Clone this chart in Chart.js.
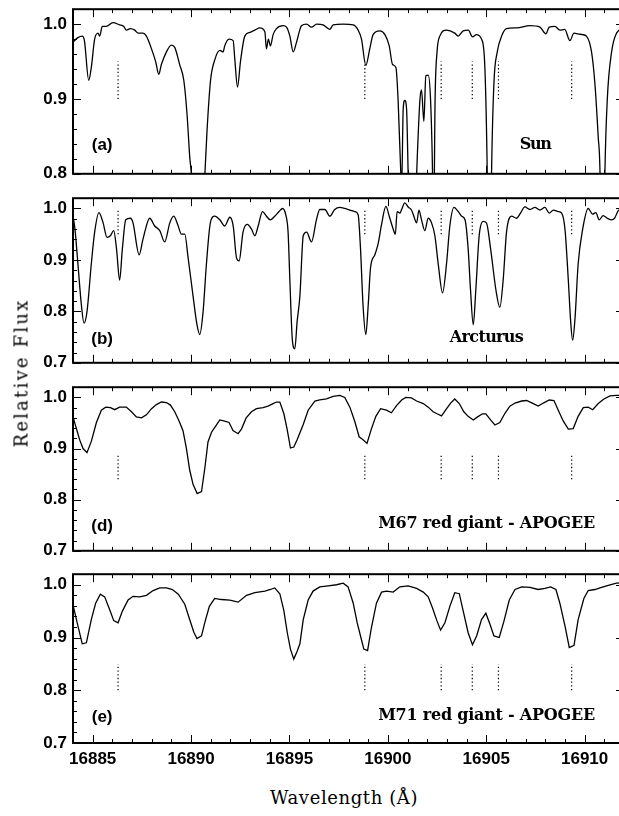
<!DOCTYPE html>
<html>
<head>
<meta charset="utf-8">
<script src="https://cdn.jsdelivr.net/npm/chart.js@4"></script>
<style>
  body { margin: 0; background: #fff; width: 619px; height: 816px; overflow: hidden; position: relative; }
  canvas { position: absolute; left: 0; }
  .ttl { position: absolute; font-family: "DejaVu Serif", serif; font-size: 18px; color: #000; white-space: nowrap; transform: translate(-50%, -50%); }
  #ylab { transform: translate(-50%, -50%) rotate(-90deg); letter-spacing: 2.2px; }
  #xlab { letter-spacing: 0.6px; }
</style>
</head>
<body>
<canvas id="pa" width="632" height="197" style="top:-7px"></canvas>
<canvas id="pb" width="632" height="197" style="top:182px"></canvas>
<canvas id="pd" width="632" height="196" style="top:371px"></canvas>
<canvas id="pe" width="632" height="219" style="top:558px"></canvas>
<div class="ttl" id="ylab" style="left:21px;top:373px">Relative Flux</div>
<div class="ttl" id="xlab" style="left:344px;top:797px">Wavelength (Å)</div>
<script>
// --- data ---
const waveMin = 16884;
const waveMax = 16912;
const fluxMax = 1.02;
const waveTicks = [16885, 16890, 16895, 16900, 16905, 16910];
const yTicksSun = [0.8, 0.9, 1.0];
const yTicks = [0.7, 0.8, 0.9, 1.0];
const markerWave = [16886.29, 16898.83, 16902.71, 16904.29, 16905.62, 16909.34];

const sunWave = [16884.00,16884.25,16884.47,16884.58,16884.80,16884.93,16885.10,16885.27,16885.35,16885.49,16885.69,16886.03,16886.37,16886.58,16886.71,16886.92,16887.14,16887.31,16887.56,16887.73,16887.99,16888.20,16888.36,16888.49,16888.75,16889.00,16889.17,16889.42,16889.63,16889.80,16889.93,16890.02,16890.36,16890.70,16890.81,16890.99,16891.20,16891.46,16891.63,16891.71,16891.93,16892.14,16892.22,16892.36,16892.51,16892.73,16892.99,16893.24,16893.49,16893.75,16893.83,16893.93,16894.03,16894.17,16894.34,16894.68,16894.85,16895.02,16895.19,16895.36,16895.61,16895.87,16896.12,16896.38,16896.71,16897.05,16897.22,16897.73,16898.24,16898.49,16898.66,16898.88,16899.08,16899.25,16899.59,16899.85,16900.07,16900.24,16900.41,16900.52,16900.65,16900.70,16900.78,16900.86,16900.95,16901.03,16901.20,16901.40,16901.49,16901.63,16901.71,16901.83,16901.93,16902.05,16902.17,16902.27,16902.32,16902.40,16902.50,16902.64,16902.98,16903.40,16903.57,16903.83,16904.09,16904.30,16904.50,16904.76,16904.93,16905.05,16905.16,16905.27,16905.39,16905.56,16905.78,16906.03,16906.54,16907.22,16907.73,16908.03,16908.20,16908.49,16908.74,16908.99,16909.25,16909.46,16909.66,16909.89,16910.09,16910.35,16910.52,16910.69,16910.78,16910.90,16911.03,16911.15,16911.37,16911.62,16912.00];
const sunFlux = [0.976,0.982,0.984,0.978,0.925,0.942,0.980,0.988,0.984,0.997,0.997,1.002,0.999,0.997,0.992,0.994,0.992,0.988,0.988,0.984,0.967,0.950,0.933,0.946,0.963,0.972,0.969,0.946,0.925,0.878,0.823,0.798,0.600,0.798,0.857,0.925,0.952,0.965,0.963,0.971,0.980,0.978,0.954,0.916,0.950,0.984,0.989,0.992,0.995,0.990,0.967,0.980,0.971,0.986,0.994,0.998,0.996,0.984,0.963,0.976,0.998,1.000,0.996,1.000,0.999,0.993,0.999,1.000,0.999,0.992,0.980,0.945,0.967,0.986,0.991,0.986,0.971,0.946,0.942,0.899,0.806,0.780,0.887,0.898,0.887,0.802,0.600,0.750,0.819,0.899,0.912,0.870,0.931,0.932,0.899,0.802,0.700,0.899,0.963,0.984,0.992,0.988,0.984,0.991,0.992,0.983,0.986,0.980,0.942,0.802,0.550,0.802,0.921,0.963,0.984,0.994,0.995,0.998,0.996,0.987,0.996,0.997,0.992,0.993,0.978,0.988,0.987,0.986,0.984,0.963,0.921,0.849,0.802,0.550,0.802,0.899,0.963,0.988,0.995];

const arcWave = [16884.00,16884.10,16884.25,16884.43,16884.56,16884.71,16884.93,16885.10,16885.32,16885.53,16885.73,16885.90,16886.07,16886.21,16886.37,16886.51,16886.68,16886.92,16887.05,16887.36,16887.56,16887.90,16888.15,16888.41,16888.66,16888.92,16889.12,16889.32,16889.51,16889.68,16889.85,16890.10,16890.30,16890.44,16890.61,16890.78,16890.98,16891.20,16891.46,16891.71,16891.97,16892.14,16892.31,16892.44,16892.64,16892.85,16893.07,16893.24,16893.41,16893.63,16893.83,16894.03,16894.25,16894.47,16894.65,16894.81,16894.93,16895.02,16895.15,16895.27,16895.39,16895.53,16895.70,16895.87,16896.12,16896.37,16896.54,16896.80,16897.05,16897.30,16897.56,16897.81,16898.07,16898.32,16898.49,16898.61,16898.74,16898.88,16899.00,16899.12,16899.34,16899.51,16899.68,16899.90,16900.07,16900.27,16900.38,16900.47,16900.61,16900.70,16900.86,16901.03,16901.20,16901.32,16901.46,16901.58,16901.71,16901.88,16902.05,16902.22,16902.39,16902.56,16902.78,16902.98,16903.15,16903.36,16903.58,16903.75,16903.92,16904.08,16904.20,16904.34,16904.47,16904.64,16904.84,16905.01,16905.22,16905.49,16905.69,16905.86,16906.03,16906.29,16906.54,16906.74,16906.96,16907.22,16907.47,16907.73,16907.98,16908.20,16908.41,16908.66,16908.83,16909.00,16909.17,16909.29,16909.39,16909.51,16909.67,16909.90,16910.18,16910.40,16910.57,16910.74,16910.94,16911.15,16911.37,16911.52,16911.74,16912.00];
const arcFlux = [0.985,0.960,0.892,0.811,0.777,0.799,0.892,0.954,0.992,0.972,0.944,0.947,0.957,0.922,0.861,0.922,0.978,0.981,0.972,0.910,0.941,0.981,0.966,0.957,0.935,0.972,0.985,0.969,0.950,0.950,0.904,0.830,0.774,0.755,0.799,0.892,0.972,0.985,0.978,0.966,0.983,0.966,0.904,0.898,0.954,0.969,0.960,0.947,0.966,0.994,0.985,0.978,0.985,0.994,1.000,0.988,0.954,0.861,0.743,0.727,0.780,0.830,0.947,0.954,0.935,0.978,0.998,0.998,0.985,0.998,1.002,1.000,0.997,0.994,0.988,0.922,0.811,0.755,0.811,0.885,0.910,0.932,0.969,1.004,0.985,0.960,0.950,0.994,0.991,0.998,1.011,1.003,0.997,0.985,0.972,0.997,0.978,0.957,0.981,0.972,0.947,0.892,0.836,0.892,0.966,1.002,0.994,0.985,0.978,0.922,0.842,0.774,0.842,0.947,0.975,0.972,0.922,0.842,0.808,0.861,0.954,0.985,0.981,0.991,1.003,0.998,1.002,0.997,1.002,0.991,0.997,0.994,0.991,0.960,0.861,0.780,0.744,0.786,0.892,0.960,1.000,0.989,0.992,0.978,0.986,0.981,0.978,0.981,0.997,0.998];

const m67Wave = [16884.00,16884.34,16884.51,16884.71,16884.93,16885.19,16885.44,16885.66,16885.90,16886.12,16886.37,16886.71,16886.97,16887.22,16887.48,16887.73,16887.99,16888.24,16888.49,16888.75,16888.95,16889.17,16889.39,16889.59,16889.76,16889.93,16890.10,16890.31,16890.53,16890.70,16890.86,16891.04,16891.25,16891.46,16891.66,16891.93,16892.13,16892.39,16892.56,16892.80,16893.07,16893.32,16893.66,16893.91,16894.17,16894.34,16894.51,16894.71,16894.88,16895.05,16895.22,16895.40,16895.70,16895.95,16896.29,16896.54,16896.88,16897.22,16897.56,16897.81,16898.07,16898.32,16898.54,16898.74,16898.94,16899.16,16899.39,16899.63,16899.93,16900.18,16900.44,16900.70,16900.91,16901.20,16901.46,16901.80,16902.05,16902.30,16902.50,16902.73,16902.95,16903.19,16903.40,16903.63,16903.86,16904.08,16904.34,16904.56,16904.81,16904.98,16905.22,16905.44,16905.69,16905.95,16906.20,16906.46,16906.80,16907.05,16907.34,16907.64,16907.90,16908.20,16908.44,16908.66,16908.91,16909.17,16909.42,16909.67,16909.93,16910.18,16910.41,16910.69,16910.98,16911.29,16911.62,16912.00];
const m67Flux = [0.962,0.917,0.900,0.892,0.914,0.951,0.975,0.981,0.980,0.976,0.981,0.981,0.972,0.962,0.960,0.966,0.978,0.986,0.991,0.990,0.985,0.972,0.954,0.935,0.901,0.858,0.830,0.812,0.816,0.862,0.913,0.932,0.944,0.956,0.954,0.951,0.935,0.929,0.938,0.960,0.972,0.978,0.980,0.983,0.988,0.991,0.991,0.969,0.938,0.901,0.903,0.918,0.947,0.975,0.993,0.995,0.997,1.002,1.004,1.000,0.981,0.953,0.923,0.917,0.910,0.938,0.963,0.978,0.975,0.970,0.984,0.995,1.000,0.999,0.993,0.988,0.981,0.972,0.968,0.964,0.976,0.989,0.997,0.988,0.972,0.963,0.956,0.962,0.968,0.968,0.956,0.946,0.951,0.969,0.983,0.989,0.993,0.994,0.989,0.983,0.989,0.995,0.994,0.975,0.954,0.938,0.939,0.963,0.980,0.981,0.976,0.988,0.997,1.003,1.004,1.004];

const m71Wave = [16884.00,16884.25,16884.47,16884.68,16884.93,16885.15,16885.39,16885.61,16885.87,16886.07,16886.29,16886.51,16886.80,16887.05,16887.39,16887.73,16888.07,16888.41,16888.75,16889.05,16889.35,16889.68,16889.93,16890.14,16890.30,16890.53,16890.71,16890.93,16891.20,16891.54,16891.97,16892.39,16892.82,16893.24,16893.75,16894.03,16894.25,16894.51,16894.71,16894.89,16895.05,16895.22,16895.39,16895.53,16895.70,16895.95,16896.20,16896.54,16896.97,16897.39,16897.73,16897.98,16898.24,16898.44,16898.63,16898.78,16898.97,16899.16,16899.42,16899.68,16899.93,16900.27,16900.61,16901.03,16901.46,16901.80,16902.05,16902.27,16902.50,16902.68,16902.90,16903.15,16903.40,16903.63,16903.83,16904.08,16904.30,16904.51,16904.76,16904.98,16905.19,16905.39,16905.66,16905.90,16906.17,16906.46,16906.80,16907.22,16907.64,16907.98,16908.27,16908.54,16908.74,16909.00,16909.22,16909.46,16909.67,16909.96,16910.18,16910.52,16910.86,16911.20,16911.62,16912.00];
const m71Flux = [0.962,0.922,0.888,0.890,0.934,0.965,0.982,0.977,0.952,0.932,0.928,0.950,0.971,0.978,0.977,0.980,0.989,0.994,0.994,0.991,0.982,0.963,0.934,0.910,0.898,0.903,0.930,0.959,0.974,0.972,0.971,0.967,0.980,0.985,0.988,0.991,0.994,0.983,0.952,0.909,0.878,0.859,0.874,0.888,0.934,0.971,0.988,0.996,0.998,1.000,1.003,0.996,0.965,0.928,0.900,0.878,0.875,0.918,0.965,0.986,0.988,0.986,0.996,0.998,0.993,0.986,0.977,0.956,0.931,0.914,0.928,0.959,0.985,0.983,0.950,0.909,0.886,0.903,0.934,0.946,0.925,0.903,0.900,0.931,0.971,0.991,0.996,0.995,0.991,0.993,0.996,0.991,0.965,0.922,0.881,0.885,0.934,0.974,0.989,0.991,0.995,0.999,1.003,1.004];

// --- drawing ---
const tickFont = { family: '"Liberation Sans", Arial, sans-serif', size: 17, weight: 'bold' };
const tagFont = 'bold 17px "Liberation Sans", Arial, sans-serif';
const nameFont = 'bold 16px "DejaVu Serif", serif';

// frame with inward ticks on all four sides, plus the panel captions
const panelFrame = {
    id: 'panelFrame',
    afterDraw(chart, args, o) {
        const { ctx, chartArea: a, scales: { x, y } } = chart;
        ctx.save();
        ctx.strokeStyle = '#000';
        ctx.lineWidth = 1;
        ctx.beginPath();
        for (let w = waveMin; w <= waveMax; w++) {
            const px = Math.round(x.getPixelForValue(w)) + 0.5;
            const len = w % 5 === 0 ? 8 : 4;
            ctx.moveTo(px, a.top);    ctx.lineTo(px, a.top + len);
            ctx.moveTo(px, a.bottom); ctx.lineTo(px, a.bottom - len);
        }
        const n = Math.round((y.max - y.min) / 0.02);
        for (let i = 0; i <= n; i++) {
            const v = y.min + i * 0.02;
            const major = Math.abs(v * 10 - Math.round(v * 10)) < 1e-6;
            const py = Math.round(y.getPixelForValue(v)) + 0.5;
            const len = major ? 8 : 4;
            ctx.moveTo(a.left, py);  ctx.lineTo(a.left + len, py);
            ctx.moveTo(a.right, py); ctx.lineTo(a.right - len, py);
        }
        ctx.stroke();
        ctx.lineWidth = 2;
        ctx.strokeRect(a.left, a.top, a.width, a.height);

        ctx.fillStyle = '#000';
        ctx.textBaseline = 'middle';
        (o.labels || []).forEach(l => {
            ctx.font = l.font;
            const cx = x.getPixelForValue(l.x);
            const cy = y.getPixelForValue(l.y);
            if (l.width) {
                // spread the caption to the width it has in the figure
                ctx.letterSpacing = '0px';
                const nat = ctx.measureText(l.text).width;
                const sp = (l.width - nat) / (l.text.length - 1);
                ctx.letterSpacing = sp.toFixed(2) + 'px';
                ctx.textAlign = 'left';
                ctx.fillText(l.text, cx - l.width / 2, cy);
                ctx.letterSpacing = '0px';
            } else {
                ctx.textAlign = 'center';
                ctx.fillText(l.text, cx, cy);
            }
        });
        ctx.restore();
    }
};

function panelChart(id, wave, flux, cfg) {
    const spec = wave.map((w, i) => ({ x: w, y: flux[i] }));
    const marks = [];
    markerWave.forEach(w => {
        marks.push({ x: w, y: cfg.mark[0] }, { x: w, y: cfg.mark[1] }, { x: w, y: null });
    });

    return new Chart(document.getElementById(id), {
        type: 'line',
        data: {
            datasets: [
                {
                    data: spec,
                    borderColor: '#000',
                    borderWidth: 1.3,
                    pointRadius: 0,
                    cubicInterpolationMode: cfg.smooth ? 'monotone' : 'default',
                    tension: 0
                },
                {
                    data: marks,
                    borderColor: '#000',
                    borderWidth: 1.2,
                    borderDash: [1.3, 2.4],
                    pointRadius: 0,
                    spanGaps: false
                }
            ]
        },
        options: {
            responsive: false,
            animation: false,
            devicePixelRatio: 1,
            layout: { padding: { top: 12, bottom: cfg.showX ? 4 : 12, left: 0, right: 8 } },
            plugins: {
                legend: { display: false },
                tooltip: { enabled: false },
                panelFrame: { labels: cfg.labels }
            },
            scales: {
                x: {
                    type: 'linear',
                    min: waveMin,
                    max: waveMax,
                    display: cfg.showX,
                    grid: { display: false, drawTicks: false },
                    border: { display: false },
                    afterBuildTicks: s => { s.ticks = waveTicks.map(v => ({ value: v })); },
                    afterFit: s => { if (cfg.showX) s.height = 30; },
                    ticks: {
                        padding: 6, color: '#000', font: tickFont,
                        maxRotation: 0, autoSkip: false,
                        callback: v => String(v)
                    }
                },
                y: {
                    min: cfg.yMin,
                    max: fluxMax,
                    grid: { display: false, drawTicks: false },
                    border: { display: false },
                    afterBuildTicks: s => { s.ticks = cfg.yTicks.map(v => ({ value: v })); },
                    afterFit: s => { s.width = 73; },
                    ticks: {
                        padding: 6, color: '#000', font: tickFont,
                        callback: v => v.toFixed(1)
                    }
                }
            }
        },
        plugins: [panelFrame]
    });
}

panelChart('pa', sunWave, sunFlux, {
    yMin: 0.8, yTicks: yTicksSun, smooth: true, showX: false, mark: [0.90, 0.95],
    labels: [
        { text: '(a)', x: 16885.48, y: 0.838, font: tagFont },
        { text: 'Sun', x: 16907.52, y: 0.839, font: nameFont, width: 32 }
    ]
});
panelChart('pb', arcWave, arcFlux, {
    yMin: 0.7, yTicks: yTicks, smooth: true, showX: false, mark: [0.95, 1.0],
    labels: [
        { text: '(b)', x: 16885.48, y: 0.746, font: tagFont },
        { text: 'Arcturus', x: 16905.03, y: 0.749, font: nameFont, width: 74 }
    ]
});
panelChart('pd', m67Wave, m67Flux, {
    yMin: 0.7, yTicks: yTicks, smooth: false, showX: false, mark: [0.84, 0.89],
    labels: [
        { text: '(d)', x: 16885.48, y: 0.748, font: tagFont },
        { text: 'M67 red giant - APOGEE', x: 16905.02, y: 0.753, font: nameFont, width: 217 }
    ]
});
panelChart('pe', m71Wave, m71Flux, {
    yMin: 0.7, yTicks: yTicks, smooth: false, showX: true, mark: [0.80, 0.85],
    labels: [
        { text: '(e)', x: 16885.48, y: 0.749, font: tagFont },
        { text: 'M71 red giant - APOGEE', x: 16905.02, y: 0.751, font: nameFont, width: 217 }
    ]
});
</script>
</body>
</html>
